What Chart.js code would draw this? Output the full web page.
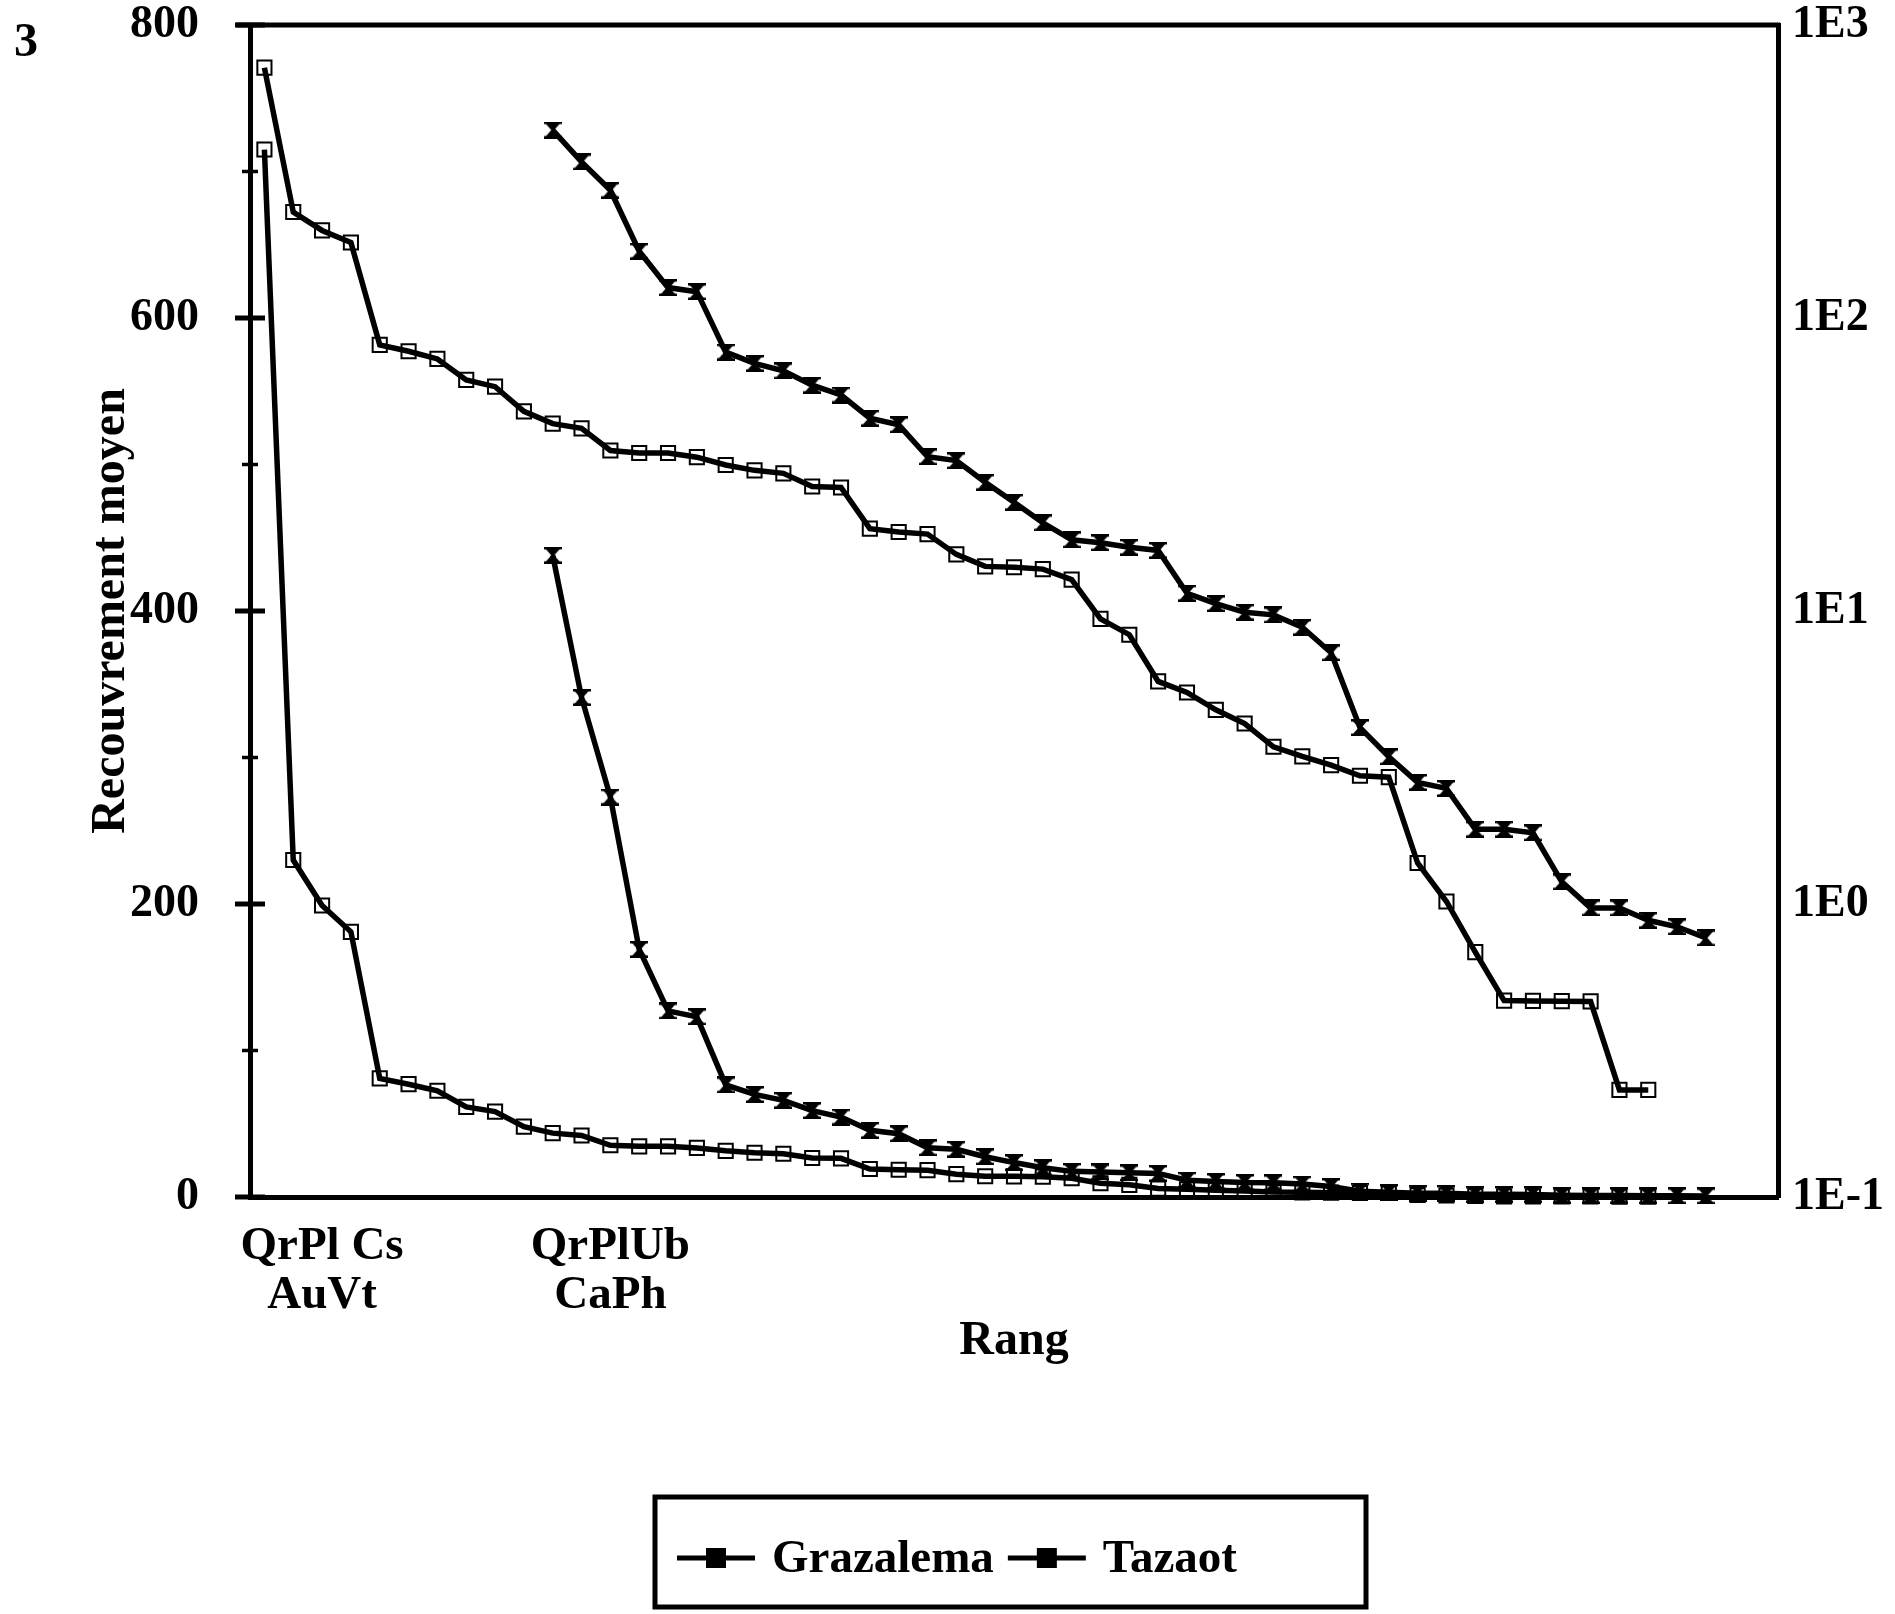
<!DOCTYPE html>
<html>
<head>
<meta charset="utf-8">
<title>Recouvrement moyen par rang</title>
<script src="https://cdn.jsdelivr.net/npm/chart.js@4.4.1/dist/chart.umd.min.js"></script>
<style>
  html, body { margin: 0; padding: 0; background: #fff; }
  #box { width: 1895px; height: 1614px; }
</style>
</head>
<body>
<div id="box"><canvas id="rangChart" width="1895" height="1614"></canvas></div>
<script>
// rangs (axe des x)
const ranks = [1, 2, 3, 4, 5, 6, 7, 8, 9, 10, 11, 12, 13, 14, 15, 16, 17, 18, 19, 20,
    21, 22, 23, 24, 25, 26, 27, 28, 29, 30, 31, 32, 33, 34, 35, 36, 37, 38, 39, 40,
    41, 42, 43, 44, 45, 46, 47, 48, 49, 50, 51, 52, 53];

// recouvrement moyen, du rang 1 au rang 49
const grazalema = [715, 230, 199, 181, 81, 77, 72.5, 61.5, 58.3, 48, 43.6, 42, 35.3,
    34.6, 34.6, 33.5, 31.5, 30.2, 29.5, 26.6, 26.4, 19.1, 18.6, 18.3, 15.6, 14.2, 14.1,
    13.9, 12.8, 9.4, 8.3, 5.75, 5.27, 4.6, 4.13, 3.44, 3.19, 2.98, 2.74, 2.71, 1.38,
    1.02, 0.685, 0.468, 0.467, 0.466, 0.465, 0.232, 0.232];

// recouvrement moyen, du rang 11 au rang 51
const tazaot = [438, 341, 273, 169, 127, 123, 76.5, 70, 66, 59, 54.6, 45.5, 43.2, 33.6,
    32.6, 27.5, 23.5, 20, 17.5, 17.1, 16.5, 16.1, 11.5, 10.6, 9.9, 9.7, 8.8, 7.2, 4.0,
    3.18, 2.6, 2.48, 1.8, 1.8, 1.75, 1.19, 0.97, 0.97, 0.88, 0.836, 0.766];
const tazaotStartRank = 11;

const leftTicks = [0, 200, 400, 600, 800];
const rightTicks = [0.1, 1, 10, 100, 1000];
const rightTickLabels = ['1E-1', '1E0', '1E1', '1E2', '1E3'];

// especes dominantes sous l'axe
const rankLabelAt = [3, 13];
const rankLabelText = [['QrPl Cs', 'AuVt'], ['QrPlUb', 'CaPh']];

const figureNumber = '3';
const serif = "'Liberation Serif', 'DejaVu Serif', serif";

const tazaotData = ranks.map(r => r < tazaotStartRank ? null : (tazaot[r - tazaotStartRank] ?? null));

// marqueur en sablier
function hourglass() {
    const c = document.createElement('canvas');
    c.width = 18;
    c.height = 17;
    const g = c.getContext('2d');
    g.fillStyle = '#000';
    g.beginPath();
    g.moveTo(1, 1);
    g.lineTo(17, 1);
    g.lineTo(10.5, 8.5);
    g.lineTo(17, 16);
    g.lineTo(1, 16);
    g.lineTo(7.5, 8.5);
    g.closePath();
    g.fill();
    g.fillRect(0, 0, 18, 2.5);
    g.fillRect(0, 14.5, 18, 2.5);
    return c;
}
const sablier = hourglass();

function serie(label, data, axis, marker) {
    const square = marker === 'rect';
    return {
        label: label,
        data: data,
        yAxisID: axis,
        borderColor: '#000',
        borderWidth: 5.5,
        tension: 0,
        clip: false,
        pointStyle: marker,
        pointRadius: square ? 10 : 9,
        pointBorderWidth: square ? 2 : 0,
        pointBorderColor: '#000',
        pointBackgroundColor: square ? 'rgba(0,0,0,0)' : '#000'
    };
}

const cadre = {
    id: 'cadre',
    afterDraw(chart) {
        const {ctx, chartArea: a, scales} = chart;
        ctx.save();
        ctx.strokeStyle = '#000';
        ctx.fillStyle = '#000';

        // ligne du haut
        ctx.lineWidth = 5;
        ctx.beginPath();
        ctx.moveTo(a.left - 14, a.top);
        ctx.lineTo(a.right + 2, a.top);
        ctx.stroke();

        // graduations qui traversent l'axe gauche
        scales.y.ticks.forEach(t => {
            const py = scales.y.getPixelForValue(t.value);
            const major = leftTicks.includes(t.value);
            const len = major ? 15 : 8;
            ctx.lineWidth = major ? 5 : 3.5;
            ctx.beginPath();
            ctx.moveTo(a.left - len, py);
            ctx.lineTo(a.left + len, py);
            ctx.stroke();
        });

        ctx.font = 'bold 48px ' + serif;
        ctx.textAlign = 'center';
        ctx.textBaseline = 'middle';
        ctx.fillText(figureNumber, 26, 44);

        // legende encadree
        const box = {left: 655, top: 1497, right: 1366, bottom: 1607};
        ctx.lineWidth = 5;
        ctx.strokeRect(box.left, box.top, box.right - box.left, box.bottom - box.top);
        const names = [];
        chart.data.datasets.forEach(d => { if (!names.includes(d.label)) names.push(d.label); });
        const cy = 1558;
        let x = 677;
        ctx.font = 'bold 47px ' + serif;
        ctx.textAlign = 'left';
        names.forEach(n => {
            ctx.lineWidth = 5;
            ctx.beginPath();
            ctx.moveTo(x, cy);
            ctx.lineTo(x + 78, cy);
            ctx.stroke();
            ctx.fillRect(x + 29, cy - 10, 20, 20);
            ctx.fillText(n, x + 95, cy + 2);
            x += 95 + ctx.measureText(n).width + 14;
        });
        ctx.restore();
    }
};

new Chart(document.getElementById('rangChart').getContext('2d'), {
    type: 'line',
    data: {
        labels: ranks,
        datasets: [
            serie('Grazalema', grazalema, 'y', 'rect'),
            serie('Grazalema', grazalema, 'y2', 'rect'),
            serie('Tazaot', tazaotData, 'y', sablier),
            serie('Tazaot', tazaotData, 'y2', sablier)
        ]
    },
    options: {
        responsive: false,
        animation: false,
        layout: {padding: {top: 25, left: 0, right: 0, bottom: 242}},
        plugins: {
            legend: {display: false},
            tooltip: {enabled: false}
        },
        scales: {
            x: {
                type: 'category',
                offset: true,
                grid: {display: false, drawTicks: false},
                border: {display: true, color: '#000', width: 5},
                ticks: {
                    autoSkip: false,
                    maxRotation: 0,
                    minRotation: 0,
                    padding: 25,
                    color: '#000',
                    font: {family: serif, size: 47, weight: 'bold', lineHeight: 1.05},
                    callback: function (value, index) {
                        const k = rankLabelAt.indexOf(ranks[index]);
                        return k < 0 ? '' : rankLabelText[k];
                    }
                },
                title: {
                    display: true,
                    text: 'Rang',
                    color: '#000',
                    font: {family: serif, size: 48, weight: 'bold'},
                    padding: {top: 0, bottom: 2}
                },
                afterFit: function (s) {
                    s.height = 175;
                    s.paddingLeft = 0;
                    s.paddingRight = 0;
                }
            },
            y: {
                position: 'left',
                min: 0,
                max: 800,
                grid: {display: false, drawTicks: false},
                border: {display: true, color: '#000', width: 5},
                ticks: {
                    stepSize: 100,
                    padding: 51,
                    color: '#000',
                    font: {family: serif, size: 46, weight: 'bold'},
                    callback: v => leftTicks.includes(v) ? String(v) : ''
                },
                title: {
                    display: true,
                    text: 'Recouvrement moyen',
                    color: '#000',
                    font: {family: serif, size: 48, weight: 'bold'},
                    padding: {top: 83, bottom: 0}
                },
                afterFit: function (s) {
                    s.width = 250;
                    s.paddingTop = 0;
                    s.paddingBottom = 0;
                }
            },
            y2: {
                type: 'logarithmic',
                position: 'right',
                min: 0.1,
                max: 1000,
                grid: {display: false, drawTicks: false},
                border: {display: true, color: '#000', width: 5},
                afterBuildTicks: function (s) {
                    s.ticks = rightTicks.map(v => ({value: v}));
                },
                ticks: {
                    padding: 14,
                    color: '#000',
                    font: {family: serif, size: 46, weight: 'bold'},
                    callback: v => rightTickLabels[rightTicks.indexOf(v)]
                },
                afterFit: function (s) {
                    s.width = 117;
                    s.paddingTop = 0;
                    s.paddingBottom = 0;
                }
            }
        }
    },
    plugins: [cadre]
});
</script>
</body>
</html>
